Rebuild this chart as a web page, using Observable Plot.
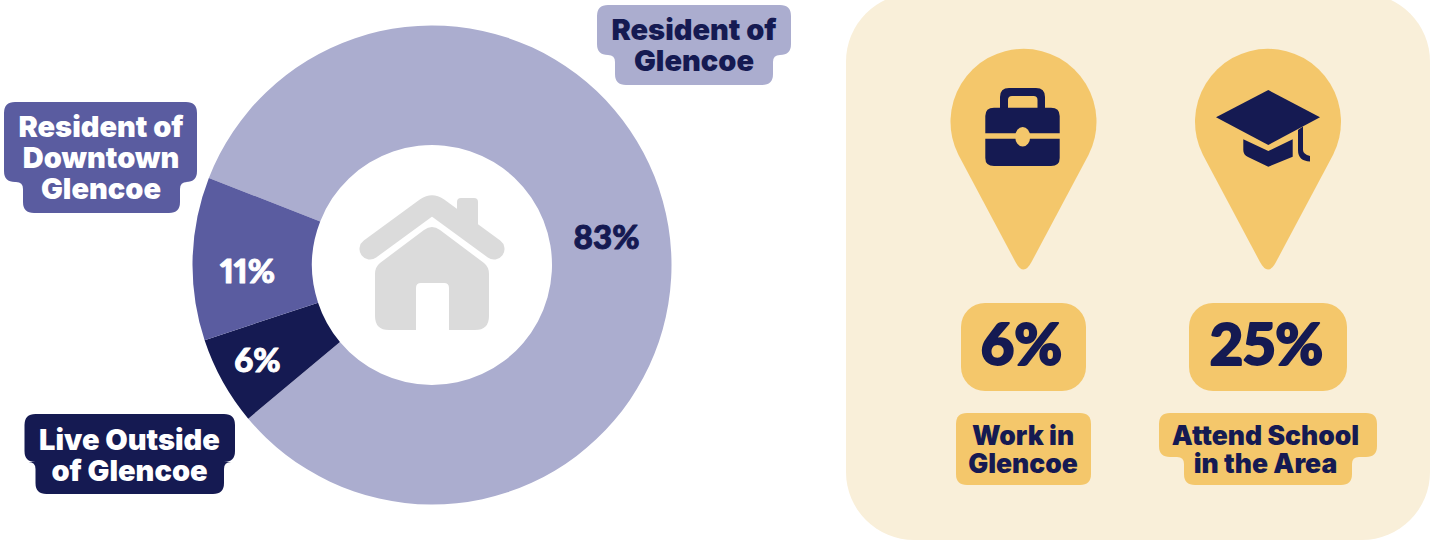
<!DOCTYPE html>
<html><head><meta charset="utf-8">
<script src="https://cdn.jsdelivr.net/npm/d3@7"></script>
<script src="https://cdn.jsdelivr.net/npm/@observablehq/plot@0.6"></script>
<style>html,body{margin:0;padding:0;background:#fff;overflow:hidden}svg{display:block}</style>
</head><body><div id="chart"></div>
<script>
// data (clockwise around the ring)
const categories = ["Resident of Glencoe", "Live Outside of Glencoe", "Resident of Downtown Glencoe"];
const shares = [83, 6, 11];
const sliceLabels = ["83%", "6%", "11%"];
const calloutTexts = ["Resident of\nGlencoe", "Live Outside\nof Glencoe", "Resident of\nDowntown\nGlencoe"];
const stats = ["6%", "25%"];
const statTexts = ["Work in\nGlencoe", "Attend School\nin the Area"];

// styles & layout
const NAVY = "#151a52", MID = "#5a5ca0", LIGHT = "#abadcf", GOLD = "#f4c76b", CREAM = "#f9efd9", GRAY = "#dbdbdb";
const FONT = "Inter, sans-serif";
const NUMFONT = "Lato, sans-serif";
const sliceFill = [LIGHT, NAVY, MID];
const cx = 432, cy = 265, R = 239.5, r0 = 120;
const startDeg = 291.3;
const sliceLabelPos = [[606, 238], [257, 361], [247, 272]];
const sliceLabelColor = [NAVY, "#fff", "#fff"];
const calloutPos = [[693.5, 45.5], [129, 455], [100.5, 158]];
const calloutColor = [NAVY, "#fff", "#fff"];
const calloutBox = [
  {x0:597,x1:791,y0:5,ym:55,x2:615,x3:773,y1:85,fill:LIGHT},
  {x0:4,x1:197,y0:102,ym:182,x2:23,x3:180,y1:213,fill:MID},
  {x0:24.5,x1:235,y0:414,ym:462,x2:35.5,x3:224,y1:494,fill:NAVY},
  {x0:956,x1:1091,y0:413,ym:485,x2:956,x3:1091,y1:485,fill:GOLD},
  {x0:1159,x1:1377,y0:413,ym:457,x2:1184,x3:1352,y1:485,fill:GOLD}
];
const statBox = [{x0:961,x1:1086,y0:303,y1:391},{x0:1189,x1:1347,y0:303,y1:391}];
const statPos = [[1021, 346], [1266, 346]];
const statTextPos = [[1022.5, 449.5], [1265, 449.5]];
const pinX = [1023.5, 1268];

function stepped(b, r = 11) {
  const p = d3.path();
  const f = 7;
  p.moveTo(b.x0 + r, b.y0);
  p.lineTo(b.x1 - r, b.y0);
  p.quadraticCurveTo(b.x1, b.y0, b.x1, b.y0 + r);
  if (b.x3 < b.x1) {
    p.lineTo(b.x1, b.ym - r);
    p.quadraticCurveTo(b.x1, b.ym, b.x1 - r, b.ym);
    p.lineTo(b.x3 + f, b.ym);
    p.quadraticCurveTo(b.x3, b.ym, b.x3, b.ym + f);
  }
  p.lineTo(b.x3, b.y1 - r);
  p.quadraticCurveTo(b.x3, b.y1, b.x3 - r, b.y1);
  p.lineTo(b.x2 + r, b.y1);
  p.quadraticCurveTo(b.x2, b.y1, b.x2, b.y1 - r);
  if (b.x2 > b.x0) {
    p.lineTo(b.x2, b.ym + f);
    p.quadraticCurveTo(b.x2, b.ym, b.x2 - f, b.ym);
    p.lineTo(b.x0 + r, b.ym);
    p.quadraticCurveTo(b.x0, b.ym, b.x0, b.ym - r);
  }
  p.lineTo(b.x0, b.y0 + r);
  p.quadraticCurveTo(b.x0, b.y0, b.x0 + r, b.y0);
  p.closePath();
  return p.toString();
}

const panelMark = () => {
  const g = d3.create("svg:g");
  g.append("rect").attr("x", 846).attr("y", -6.5).attr("width", 584).attr("height", 546.5).attr("rx", 68).attr("fill", CREAM);
  return g.node();
};

const donutMark = (index, {x, y}) => {
  const g = d3.create("svg:g").attr("transform", `translate(${x(cx)},${y(cy)})`);
  const a0 = startDeg * Math.PI / 180;
  const arcs = d3.pie().sort(null).startAngle(a0).endAngle(a0 + 2 * Math.PI)(shares);
  const arc = d3.arc().innerRadius(r0).outerRadius(R);
  g.selectAll("path").data(arcs).join("path").attr("d", arc).attr("fill", (d, i) => sliceFill[i])
    .append("title").text((d, i) => categories[i]);
  return g.node();
};

const houseMark = () => {
  const g = d3.create("svg:g").attr("fill", GRAY);
  g.append("rect").attr("x", 457).attr("y", 198).attr("width", 21).attr("height", 36).attr("rx", 4);
  g.append("path").attr("d", "M370 249 L426 208 Q432 204 438 208 L494 249").attr("fill", "none").attr("stroke", GRAY).attr("stroke-width", 21).attr("stroke-linecap", "round").attr("stroke-linejoin", "round");
  g.append("path").attr("d", "M424 230 Q432 224 440 230 L484 263 Q489 267 489 274 L489 316 Q489 330 475 330 L449 330 L449 288 Q449 283 444 283 L421 283 Q416 283 416 288 L416 330 L389 330 Q375 330 375 316 L375 274 Q375 267 380 263 Z");
  return g.node();
};

const pinsMark = () => {
  const g = d3.create("svg:g");
  for (const px of pinX) {
    g.append("path").attr("fill", GOLD).attr("d",
      `M${px - 65} 155 A73 73 0 1 1 ${px + 65} 155 L${px + 8} 262 Q${px} 277 ${px - 8} 262 Z`);
  }
  // briefcase
  g.append("path").attr("fill", NAVY).attr("fill-rule", "evenodd").attr("d",
    "M1000 108 L1000 97 Q1000 88 1009 88 L1036 88 Q1045 88 1045 97 L1045 108 L1037.5 108 L1037.5 100 Q1037.5 96 1033.5 96 L1012 96 Q1008 96 1008 100 L1008 108 Z");
  g.append("path").attr("fill", NAVY).attr("d",
    "M985.3 133.3 L985.3 116 Q985.3 107.7 994 107.7 L1051 107.7 Q1059.7 107.7 1059.7 116 L1059.7 133.3 Z M985.3 138.7 L1059.7 138.7 L1059.7 158 Q1059.7 166 1051 166 L994 166 Q985.3 166 985.3 158 Z");
  g.append("ellipse").attr("cx", 1022.7).attr("cy", 136.7).attr("rx", 7.5).attr("ry", 9.8).attr("fill", GOLD);
  // mortarboard
  g.append("path").attr("fill", NAVY).attr("d", "M1216 117.3 L1268.3 90 L1320 117.3 L1268.3 145 Z");
  g.append("path").attr("fill", NAVY).attr("d", "M1243.3 139.3 L1268.3 151 L1292.7 139.3 L1292.7 156.7 L1268.3 166.7 L1248 157 Q1243.3 155 1243.3 150 Z");
  g.append("path").attr("fill", NAVY).attr("d", "M1298 130 L1303 126.5 L1303 150 Q1303 154 1310 156 L1310 161.5 Q1298 161 1298 150 Z");
  return g.node();
};

const boxesMark = () => {
  const g = d3.create("svg:g");
  g.selectAll("path").data(calloutBox).join("path").attr("d", d => stepped(d)).attr("fill", d => d.fill);
  return g.node();
};

const textOpts = {fontFamily: FONT, fontWeight: 900, textAnchor: "middle", lineAnchor: "middle"};
const numOpts = {...textOpts, fontFamily: NUMFONT, fontVariant: "proportional-nums"};

const chart = Plot.plot({
  width: 1439, height: 541,
  margin: 0,
  x: {type: "identity", axis: null},
  y: {type: "identity", axis: null},
  style: {background: "transparent"},
  marks: [
    panelMark,
    donutMark,
    houseMark,
    pinsMark,
    boxesMark,
    Plot.rect(statBox, {x1: "x0", x2: "x1", y1: "y0", y2: "y1", rx: 24, fill: GOLD}),
    Plot.text(sliceLabels, {...numOpts, x: (d, i) => sliceLabelPos[i][0], y: (d, i) => sliceLabelPos[i][1], text: d => d, fill: (d, i) => sliceLabelColor[i], stroke: (d, i) => sliceLabelColor[i], strokeWidth: 1, fontSize: 33}),
    Plot.text(calloutTexts, {...textOpts, x: (d, i) => calloutPos[i][0], y: (d, i) => calloutPos[i][1], text: d => d, fill: (d, i) => calloutColor[i], fontSize: 29, lineHeight: 1.07}),
    Plot.text(stats, {...numOpts, x: (d, i) => statPos[i][0], y: (d, i) => statPos[i][1], text: d => d, fill: NAVY, stroke: NAVY, strokeWidth: 2, fontSize: 58}),
    Plot.text(statTexts, {...textOpts, x: (d, i) => statTextPos[i][0], y: (d, i) => statTextPos[i][1], text: d => d, fill: NAVY, fontSize: 26.5, lineHeight: 1.06})
  ]
});
document.getElementById("chart").append(chart);
</script></body></html>
